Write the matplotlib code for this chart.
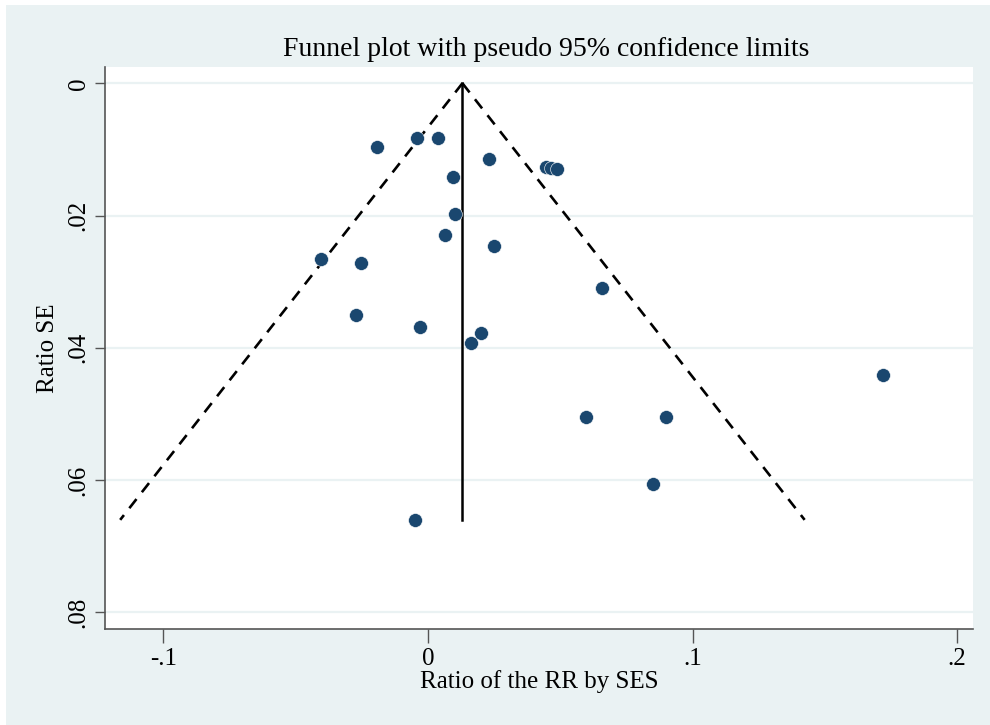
import numpy as np
import matplotlib.pyplot as plt
from matplotlib.patches import Rectangle

# Study estimates (ratio) and their standard errors
ratio = [-0.0192, -0.0042, 0.0038, 0.0229, 0.0447, 0.0466, 0.0489, 0.0093,
         0.0102, 0.0064, 0.0248, -0.0403, -0.0253, 0.0657, -0.0273, -0.0029,
         0.0200, 0.0164, 0.1718, 0.0596, 0.0901, 0.0851, -0.0048]
ratio_se = [0.0097, 0.0083, 0.0083, 0.0114, 0.0126, 0.0128, 0.0129, 0.0142,
            0.0197, 0.0229, 0.0246, 0.0265, 0.0271, 0.0310, 0.0350, 0.0368,
            0.0377, 0.0393, 0.0441, 0.0504, 0.0504, 0.0606, 0.0660]
pooled = 0.0130

xticks = [-0.1, 0, 0.1, 0.2]
xtick_labels = ['-.1', '0', '.1', '.2']
yticks = [0, 0.02, 0.04, 0.06, 0.08]
ytick_labels = ['0', '.02', '.04', '.06', '.08']

bg = '#EAF2F3'
navy = '#1A476F'

plt.rcParams['font.family'] = ['Liberation Serif', 'DejaVu Serif']

fig = plt.figure(figsize=(9.9, 7.25), dpi=100)
fig.patches.append(Rectangle((6 / 990, 0), 1, 1 - 5 / 725, transform=fig.transFigure,
                             facecolor=bg, edgecolor='none', zorder=-10))

ax = fig.add_axes([105 / 990, 96 / 725, 868 / 990, 562 / 725])
ax.set_facecolor('white')

# pseudo 95% limits
se_max = max(ratio_se)
se_line = np.array([0, se_max])
ax.plot(pooled - 1.96 * se_line, se_line, color='black', lw=1.9, ls=(0, (4.4, 3.3)))
ax.plot(pooled + 1.96 * se_line, se_line, color='black', lw=1.9, ls=(0, (4.4, 3.3)))
ax.plot([pooled, pooled], se_line, color='black', lw=1.8)

ax.plot(ratio, ratio_se, 'o', color=navy, markersize=10, markeredgecolor='white',
        markeredgewidth=0.4, zorder=3)

ax.set_xlim(-0.1221, 0.2060)
ax.set_ylim(0.0825, -0.00246)

ax.set_xticks(xticks)
ax.set_xticklabels(xtick_labels, fontsize=18)
ax.set_yticks(yticks)
ax.set_yticklabels(ytick_labels, fontsize=18, rotation=90, va='center')
ax.tick_params(axis='x', length=10, width=1, color='#555555', pad=4)
ax.tick_params(axis='y', length=7, width=1, color='#555555', pad=4)

ax.grid(axis='y', color=bg, lw=1.6)
ax.set_axisbelow(True)
for s in ['top', 'right']:
    ax.spines[s].set_visible(False)
for s in ['left', 'bottom']:
    ax.spines[s].set_color('#555555')
    ax.spines[s].set_linewidth(1.2)

ax.set_xlabel('Ratio of the RR by SES', fontsize=18, labelpad=0)
ax.set_ylabel('Ratio SE', fontsize=18, labelpad=6)
ax.set_title('Funnel plot with pseudo 95% confidence limits', fontsize=20, pad=8, x=0.508)

fig.savefig('out.png', dpi=100)
